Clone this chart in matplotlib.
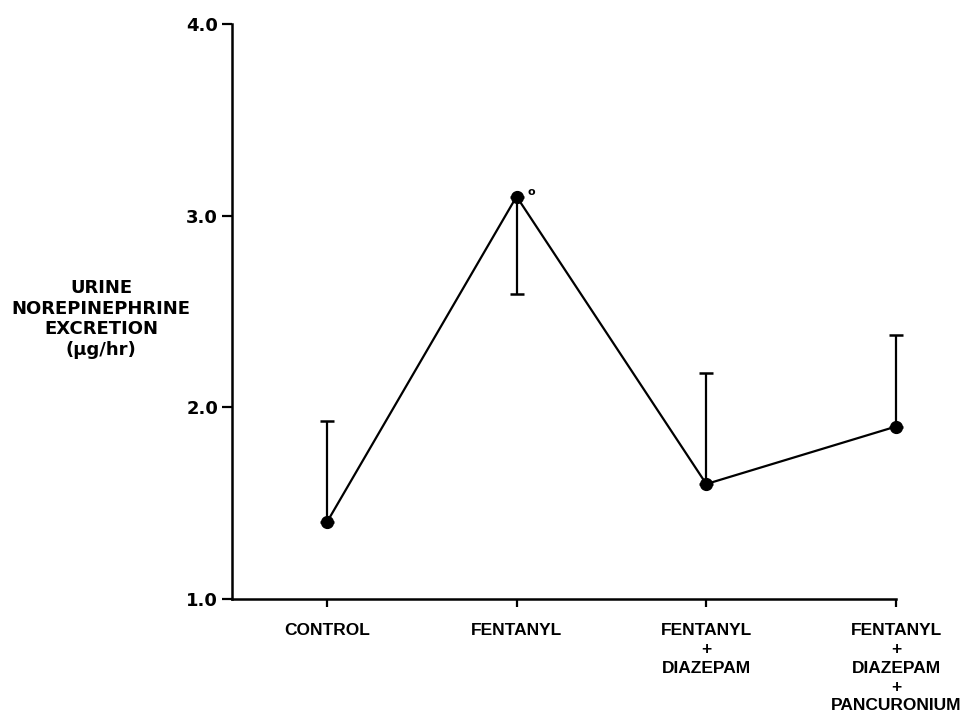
import matplotlib.pyplot as plt

# values
groups = ["CONTROL", "FENTANYL", "FENTANYL\n+\nDIAZEPAM", "FENTANYL\n+\nDIAZEPAM\n+\nPANCURONIUM"]
means = [1.40, 3.10, 1.60, 1.90]
err_up = [0.53, 0.0, 0.58, 0.48]
err_down = [0.0, 0.51, 0.0, 0.0]
y_ticks = [1.0, 2.0, 3.0, 4.0]

plt.rcParams["font.family"] = ["DejaVu Sans"]

fig = plt.figure(figsize=(9.61, 7.15), dpi=100)
ax = fig.add_axes([0.2414, 0.1622, 0.6910, 0.8042])

x = list(range(len(groups)))
eb = ax.errorbar(x, means, yerr=[err_down, err_up], fmt="none", ecolor="black",
                 elinewidth=1.6, capsize=5, capthick=1.8, zorder=2)
for art in eb.get_children():
    art.set_clip_on(False)
line, = ax.plot(x, means, color="black", linewidth=1.6, marker="o", markersize=8.5, zorder=3)
line.set_clip_on(False)

# significance mark next to the fentanyl point
ax.annotate("o", xy=(1, means[1]), xytext=(8, 3), textcoords="offset points",
            fontsize=8, fontweight="bold", ha="left", va="center")

ax.set_xlim(-0.5, 3)
ax.set_ylim(1.0, 4.0)
ax.set_xticks(x)
ax.set_xticklabels(groups, fontsize=12.5, fontweight="bold", linespacing=1.33,
                   family=["Liberation Sans", "DejaVu Sans"])
ax.set_yticks(y_ticks)
ax.set_yticklabels([f"{v:.1f}" for v in y_ticks], fontsize=13, fontweight="bold")
ax.tick_params(direction="out", length=7, width=1.6, pad=3)
ax.tick_params(axis="x", length=6, pad=11)

for side in ["top", "right"]:
    ax.spines[side].set_visible(False)
for side in ["left", "bottom"]:
    ax.spines[side].set_linewidth(1.8)

fig.text(101 / 961, 1 - 319 / 715, "URINE\nNOREPINEPHRINE\nEXCRETION\n(\u03bcg/hr)",
         ha="center", va="center", fontsize=13, fontweight="bold", linespacing=1.2)

fig.savefig("out.png", dpi=100)
